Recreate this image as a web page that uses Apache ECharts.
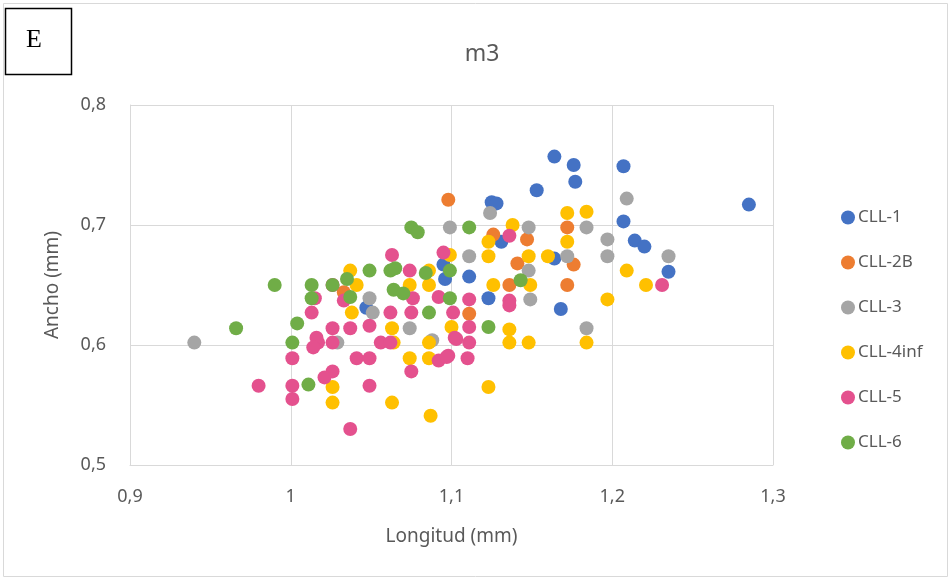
<!DOCTYPE html>
<html>
<head>
<meta charset="utf-8">
<script src="https://cdn.jsdelivr.net/npm/echarts@6/dist/echarts.min.js"></script>
<style>
  html, body { margin: 0; padding: 0; background: #fff; }
  #chart { width: 952px; height: 580px; }
</style>
</head>
<body>
<div id="chart"></div>
<script>
  // longitud / ancho (mm) por grupo
  var cll1 = [
    [1.164, 0.757], [1.176, 0.750], [1.177, 0.736], [1.153, 0.729], [1.207, 0.749],
    [1.207, 0.703], [1.214, 0.687], [1.220, 0.682], [1.285, 0.717], [1.235, 0.661],
    [1.168, 0.630], [1.164, 0.672], [1.125, 0.719], [1.128, 0.718], [1.131, 0.686],
    [1.123, 0.639], [1.111, 0.657], [1.096, 0.655], [1.095, 0.667], [1.047, 0.631]
  ]
  var cll2b = [
    [1.098, 0.721], [1.172, 0.698], [1.126, 0.692], [1.147, 0.688], [1.176, 0.667],
    [1.141, 0.668], [1.136, 0.650], [1.172, 0.650], [1.111, 0.626], [1.033, 0.644]
  ]
  var cll3 = [
    [0.940, 0.602], [1.099, 0.698], [1.124, 0.710], [1.111, 0.674], [1.148, 0.698],
    [1.184, 0.698], [1.209, 0.722], [1.197, 0.688], [1.197, 0.674], [1.172, 0.674],
    [1.235, 0.674], [1.148, 0.662], [1.149, 0.638], [1.184, 0.614], [1.049, 0.639],
    [1.051, 0.627], [1.074, 0.614], [1.029, 0.602], [1.088, 0.604]
  ]
  var cll4inf = [
    [1.099, 0.675], [1.138, 0.700], [1.172, 0.710], [1.184, 0.711], [1.123, 0.686],
    [1.172, 0.686], [1.123, 0.674], [1.148, 0.674], [1.160, 0.674], [1.126, 0.650],
    [1.149, 0.650], [1.197, 0.638], [1.209, 0.662], [1.221, 0.650], [1.100, 0.615],
    [1.136, 0.613], [1.136, 0.602], [1.148, 0.602], [1.184, 0.602], [1.123, 0.565],
    [1.037, 0.662], [1.086, 0.662], [1.041, 0.650], [1.074, 0.650], [1.086, 0.650],
    [1.038, 0.627], [1.063, 0.614], [1.064, 0.602], [1.086, 0.602], [1.074, 0.589],
    [1.086, 0.589], [1.026, 0.565], [1.026, 0.552], [1.063, 0.552], [1.087, 0.541]
  ]
  var cll5 = [
    [1.017, 0.602], [0.980, 0.566], [1.001, 0.589], [1.001, 0.566], [1.001, 0.555],
    [1.063, 0.675], [1.095, 0.677], [1.074, 0.662], [1.026, 0.650], [1.033, 0.637],
    [1.015, 0.639], [1.076, 0.639], [1.092, 0.640], [1.013, 0.627], [1.062, 0.627],
    [1.075, 0.627], [1.101, 0.627], [1.026, 0.614], [1.037, 0.614], [1.049, 0.616],
    [1.016, 0.606], [1.014, 0.598], [1.026, 0.602], [1.056, 0.602], [1.062, 0.602],
    [1.102, 0.606], [1.041, 0.589], [1.049, 0.589], [1.092, 0.587], [1.098, 0.591],
    [1.075, 0.578], [1.026, 0.578], [1.021, 0.573], [1.049, 0.566], [1.037, 0.530],
    [1.136, 0.691], [1.111, 0.638], [1.136, 0.637], [1.136, 0.633], [1.111, 0.615],
    [1.103, 0.605], [1.111, 0.602], [1.097, 0.590], [1.110, 0.589], [1.231, 0.650]
  ]
  var cll6 = [
    [0.966, 0.614], [0.990, 0.650], [1.004, 0.618], [1.001, 0.602], [1.013, 0.650],
    [1.013, 0.639], [1.026, 0.650], [1.035, 0.655], [1.037, 0.640], [1.049, 0.662],
    [1.062, 0.662], [1.065, 0.664], [1.064, 0.646], [1.070, 0.643], [1.084, 0.660],
    [1.075, 0.698], [1.079, 0.694], [1.086, 0.627], [1.099, 0.662], [1.099, 0.639],
    [1.111, 0.698], [1.143, 0.654], [1.123, 0.615], [1.011, 0.567]
  ]

  var groups = ['CLL-1', 'CLL-2B', 'CLL-3', 'CLL-4inf', 'CLL-5', 'CLL-6']
  var groupData = [cll1, cll2b, cll3, cll4inf, cll5, cll6]
  var colors = ['#4472C4', '#ED7D31', '#A5A5A5', '#FFC000', '#E4518E', '#70AD47']

  var font = 'Noto Sans'
  var txt = '#595959'
  var gridCol = '#d9d9d9'

  function comma(v) {
    return String(+v.toFixed(2)).replace('.', ',')
  }

  var myChart = echarts.init(document.getElementById('chart'))

  var option = {
    animation: false,
    color: colors,
    title: {
      text: 'm3',
      left: 477,
      top: 38,
      textAlign: 'center',
      textStyle: { fontFamily: font, fontSize: 23, fontWeight: 'normal', color: txt }
    },
    grid: { left: 130, right: 179, top: 105, bottom: 115 },
    legend: {
      orient: 'vertical',
      left: 836,
      top: 204,
      itemWidth: 14,
      itemHeight: 14,
      itemGap: 28,
      icon: 'circle',
      textStyle: { fontFamily: font, fontSize: 17, color: txt, padding: [0, 0, 0, -2] },
      data: groups
    },
    xAxis: {
      type: 'value',
      min: 0.9, max: 1.3, interval: 0.1,
      name: 'Longitud (mm)',
      nameLocation: 'middle',
      nameGap: 62,
      nameTextStyle: { fontFamily: font, fontSize: 19, color: txt },
      axisLine: { show: true, lineStyle: { color: gridCol } },
      axisTick: { show: false },
      splitLine: { show: true, lineStyle: { color: gridCol } },
      axisLabel: { fontFamily: font, fontSize: 18, color: txt, margin: 23, formatter: comma }
    },
    yAxis: {
      type: 'value',
      min: 0.5, max: 0.8, interval: 0.1,
      name: 'Ancho (mm)',
      nameLocation: 'middle',
      nameGap: 68,
      nameTextStyle: { fontFamily: font, fontSize: 19, color: txt },
      axisLine: { show: true, lineStyle: { color: gridCol } },
      axisTick: { show: false },
      splitLine: { show: true, lineStyle: { color: gridCol } },
      axisLabel: { fontFamily: font, fontSize: 18, color: txt, margin: 24, formatter: comma }
    },
    graphic: [
      {
        type: 'rect', silent: true, z: -10,
        shape: { x: 3.5, y: 3.5, width: 944, height: 573 },
        style: { fill: 'none', stroke: gridCol, lineWidth: 1 }
      },
      {
        type: 'rect', silent: true,
        shape: { x: 5.5, y: 8.5, width: 66, height: 66 },
        style: { fill: '#fff', stroke: '#000', lineWidth: 1.5 }
      },
      {
        type: 'text', silent: true,
        left: 26, top: 27,
        style: { text: 'E', font: '26px "Liberation Serif", serif', fill: '#000' }
      }
    ],
    series: groupData.map(function (d, i) {
      return {
        name: groups[i],
        type: 'scatter',
        symbolSize: 14,
        itemStyle: { opacity: 1 },
        data: d
      }
    })
  }
  myChart.setOption(option)
</script>
</body>
</html>
